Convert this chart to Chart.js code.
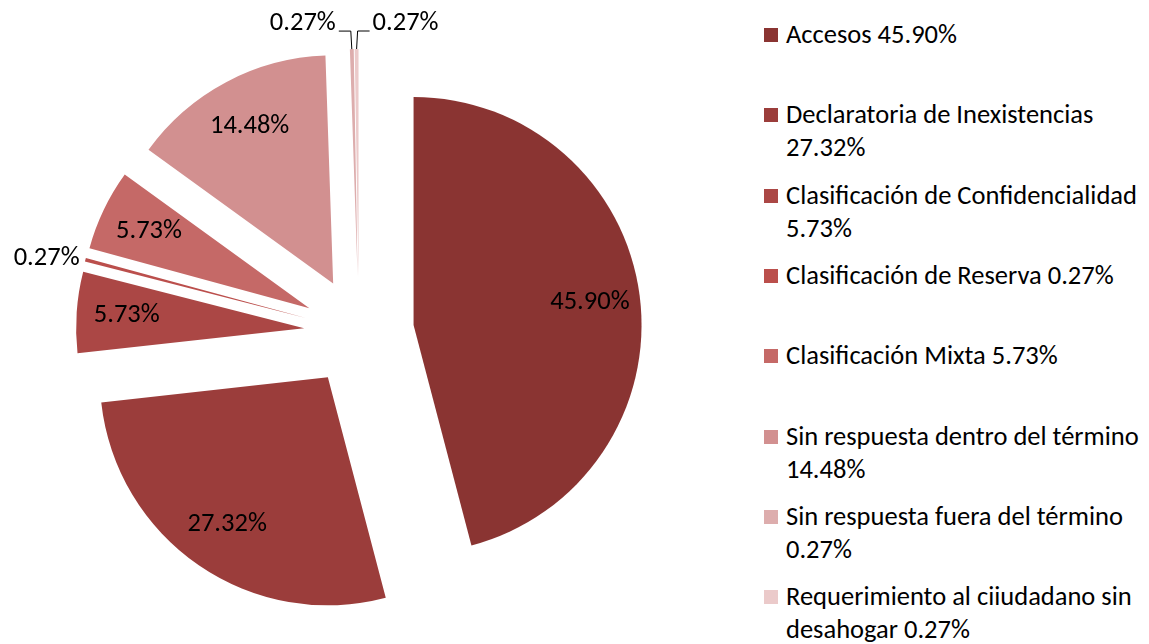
<!DOCTYPE html>
<html lang="es">
<head>
  <meta charset="UTF-8" />
  <title>Solicitudes por tipo de respuesta</title>
  <script src="https://cdn.jsdelivr.net/npm/chart.js@4.4.1/dist/chart.umd.min.js"></script>
  <style>
    body {
      margin: 0;
      background: #fff;
      font-family: Carlito, Lato, sans-serif;
    }
    .wrap {
      position: relative;
      width: 1149px;
      height: 644px;
    }
    .chart-box {
      position: absolute;
      left: 0;
      top: 0;
      width: 750px;
      height: 644px;
    }
    #legend {
      position: absolute;
      left: 764px;
      top: 0;
      width: 385px;
    }
    .item {
      position: absolute;
      left: 0;
      display: flex;
      align-items: flex-start;
    }
    .swatch {
      width: 14px;
      height: 14px;
      margin-top: 10px;
      margin-right: 8px;
      flex: none;
    }
    .txt {
      font-size: 26.5px;
      line-height: 33px;
      color: #000;
      max-width: 363px;
    }
  </style>
</head>
<body>
  <div class="wrap">
    <div class="chart-box"><canvas id="pie"></canvas></div>
    <div id="legend"></div>
  </div>

  <script>
    const categories = [
      'Accesos',
      'Declaratoria de Inexistencias',
      'Clasificación de Confidencialidad',
      'Clasificación de Reserva',
      'Clasificación Mixta',
      'Sin respuesta dentro del término',
      'Sin respuesta fuera del término',
      'Requerimiento al ciiudadano sin desahogar'
    ];
    const percentages = [45.90, 27.32, 5.73, 0.27, 5.73, 14.48, 0.27, 0.27];
    const sliceColors = ['#8a3432', '#9b3d3b', '#ab4745', '#bb4f4c', '#c56967', '#d29090', '#ddadad', '#ebcaca'];
    // where each percentage label goes
    const labelPlace = ['in', 'in', 'in', 'out', 'in', 'in', 'leftLeader', 'rightLeader'];

    const EXPLODE = 55;
    const FONT = '26.5px Carlito, Lato, sans-serif';
    const fmt = v => v.toFixed(2) + '%';

    // draw every slice pulled out from the centre
    const explodePlugin = {
      id: 'explode',
      beforeDatasetDraw(chart, args) {
        const ctx = chart.ctx;
        args.meta.data.forEach(arc => {
          const mid = (arc.startAngle + arc.endAngle) / 2;
          ctx.save();
          ctx.translate(Math.cos(mid) * EXPLODE, Math.sin(mid) * EXPLODE);
          arc.draw(ctx);
          ctx.restore();
        });
        return false;
      }
    };

    const labelPlugin = {
      id: 'sliceLabels',
      afterDatasetsDraw(chart) {
        const ctx = chart.ctx;
        const arcs = chart.getDatasetMeta(0).data;
        ctx.save();
        ctx.font = FONT;
        ctx.fillStyle = '#000';
        ctx.strokeStyle = '#000';
        ctx.lineWidth = 1;
        arcs.forEach((arc, i) => {
          const mid = (arc.startAngle + arc.endAngle) / 2;
          const dx = Math.cos(mid), dy = Math.sin(mid);
          const vx = arc.x + dx * EXPLODE, vy = arc.y + dy * EXPLODE;
          const r = arc.outerRadius;
          const text = fmt(percentages[i]);
          const place = labelPlace[i];
          if (place === 'in') {
            ctx.textAlign = 'center';
            ctx.textBaseline = 'middle';
            ctx.fillText(text, vx + dx * r * 0.78, vy + dy * r * 0.78);
          } else if (place === 'out') {
            ctx.textAlign = 'right';
            ctx.textBaseline = 'middle';
            ctx.fillText(text, vx + dx * (r + 6), vy + dy * (r + 6));
          } else {
            const side = place === 'leftLeader' ? -1 : 1;
            const tx = vx + dx * r, ty = vy + dy * r;
            const ex = tx + side * 1, ey = ty - 18;
            const hx = ex + side * 12;
            ctx.beginPath();
            ctx.moveTo(tx, ty);
            ctx.lineTo(ex, ey);
            ctx.lineTo(hx, ey);
            ctx.stroke();
            ctx.textAlign = side < 0 ? 'right' : 'left';
            ctx.textBaseline = 'middle';
            ctx.fillText(text, hx + side * 3, ey - 8);
          }
        });
        ctx.restore();
      }
    };

    new Chart(document.getElementById('pie'), {
      type: 'pie',
      data: {
        labels: categories,
        datasets: [{
          data: percentages,
          backgroundColor: sliceColors,
          borderWidth: 0,
          clip: false
        }]
      },
      options: {
        responsive: true,
        maintainAspectRatio: false,
        animation: false,
        radius: 228,
        layout: { padding: { top: 20, right: 32 } },
        plugins: {
          legend: { display: false },
          tooltip: { enabled: false }
        }
      },
      plugins: [explodePlugin, labelPlugin]
    });

    // legend on the right, built from the same arrays
    const legend = document.getElementById('legend');
    categories.forEach((name, i) => {
      const item = document.createElement('div');
      item.className = 'item';
      item.style.top = (18 + i * 80.3) + 'px';
      const sw = document.createElement('div');
      sw.className = 'swatch';
      sw.style.background = sliceColors[i];
      const txt = document.createElement('div');
      txt.className = 'txt';
      txt.textContent = name + ' ' + fmt(percentages[i]);
      item.appendChild(sw);
      item.appendChild(txt);
      legend.appendChild(item);
    });
  </script>
</body>
</html>
